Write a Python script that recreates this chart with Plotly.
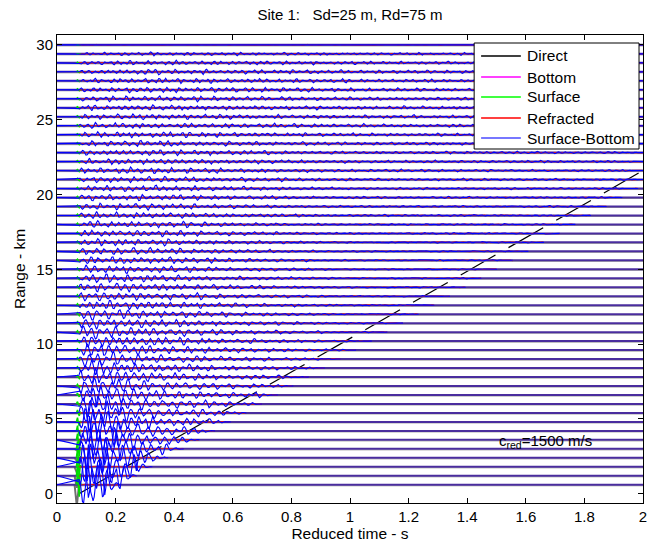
import numpy as np
import plotly.graph_objects as go

# ---------------- data ----------------
ranges_km = [0.6, 1.2, 1.8, 2.4, 3.0, 3.6, 4.2, 4.8, 5.4, 6.0,
             6.6, 7.2, 7.8, 8.4, 9.0, 9.6, 10.2, 10.8, 11.4, 12.0,
             12.6, 13.2, 13.8, 14.4, 15.0, 15.6, 16.2, 16.8, 17.4, 18.0,
             18.6, 19.2, 19.8, 20.4, 21.0, 21.6, 22.2, 22.8, 23.4, 24.0,
             24.6, 25.2, 25.8, 26.4, 27.0, 27.6, 28.2, 28.8, 29.4, 30.0]

# surface-bottom envelope (km): at ~0.11 s (peak), ~0.35 s (mid), ~1.0 s (late)
peak_amp = [2.0, 1.9, 1.8, 1.7, 1.55, 1.4, 1.3, 1.2, 1.05, 0.95,
            0.85, 0.76, 0.68, 0.62, 0.57, 0.53, 0.49, 0.46, 0.43, 0.41,
            0.39, 0.37, 0.35, 0.33, 0.31, 0.30, 0.29, 0.28, 0.27, 0.26,
            0.25, 0.24, 0.23, 0.23, 0.22, 0.22, 0.21, 0.21, 0.20, 0.20,
            0.20, 0.19, 0.19, 0.18, 0.18, 0.17, 0.16, 0.15, 0.11, 0.0]
mid_amp = [0.38, 0.38, 0.37, 0.36, 0.35, 0.34, 0.33, 0.32, 0.32, 0.31,
           0.31, 0.30, 0.30, 0.29, 0.29, 0.28, 0.28, 0.27, 0.27, 0.26,
           0.26, 0.25, 0.25, 0.24, 0.24, 0.23, 0.23, 0.22, 0.22, 0.21,
           0.21, 0.21, 0.20, 0.20, 0.20, 0.20, 0.20, 0.20, 0.20, 0.20,
           0.19, 0.19, 0.19, 0.19, 0.19, 0.18, 0.18, 0.16, 0.12, 0.0]
late_amp = [0.05, 0.05, 0.05, 0.05, 0.05, 0.05, 0.05, 0.05, 0.05, 0.05,
            0.05, 0.05, 0.05, 0.05, 0.05, 0.05, 0.05, 0.05, 0.05, 0.05,
            0.05, 0.05, 0.05, 0.05, 0.05, 0.05, 0.05, 0.05, 0.06, 0.06,
            0.07, 0.07, 0.08, 0.08, 0.09, 0.09, 0.10, 0.10, 0.11, 0.11,
            0.12, 0.12, 0.12, 0.12, 0.12, 0.12, 0.12, 0.11, 0.09, 0.0]
# surface arrival amplitude (km)
surface_amp = [0.8, 0.7, 0.6, 0.55, 0.5, 0.42, 0.35, 0.28, 0.2, 0.15,
               0.12, 0.1, 0.1, 0.09, 0.09, 0.09, 0.09, 0.09, 0.09, 0.09,
               0.09, 0.09, 0.08, 0.08, 0.08, 0.08, 0.08, 0.08, 0.08, 0.08,
               0.08, 0.08, 0.07, 0.07, 0.07, 0.07, 0.07, 0.07, 0.07, 0.06,
               0.06, 0.06, 0.06, 0.06, 0.06, 0.05, 0.05, 0.04, 0.02, 0.0]
# direct arrival amplitude (km), only visible on the nearest traces
direct_amp = [-1.4, -0.8, -0.4, -0.2, -0.1]

# envelope time knots (s) -- used with the three amplitude lists above
env_t = [0.075, 0.085, 0.11, 0.15, 0.22, 0.35, 0.60, 1.00, 2.00]

# normalised irregular wavelet samples (dt = 4 ms)
wavelet = [0, 0.5, 0.9, 0.8, 0.2, -0.5, -0.9, -0.7, -0.1, 0.4, 0.6, 0.3, -0.2, -0.7,
           -1.0, -0.6, 0.2, 0.9, 1.0, 0.4, -0.3, -0.6, -0.4, 0.1, 0.7, 0.8, 0.2, -0.5,
           -0.9, -0.8, -0.3, 0.3, 0.5, 0.2, -0.2, -0.3, 0.1, 0.8, 1.0, 0.5, -0.4, -1.0,
           -0.9, -0.2, 0.5, 0.9, 0.7, 0.0, -0.6, -0.7, -0.3, 0.2, 0.3, 0.0, -0.4, -0.9,
           -0.6, 0.2, 0.9, 0.8, 0.1, -0.5, -0.8, -0.4, 0.3, 0.7, 0.4, -0.1, -0.3, -0.1,
           0.3, 0.6, 0.2, -0.6, -1.0, -0.7, 0.1, 0.8, 0.9, 0.3, -0.4, -0.7, -0.5, 0.0,
           0.5, 0.6, 0.2, -0.3, -0.5, -0.2]
# slow amplitude modulation (one value per 20 ms)
modulation = [1.0, 0.7, 0.9, 1.2, 0.6, 0.8, 1.1, 0.5, 0.9, 1.0, 0.7, 1.2, 0.8, 0.6,
              1.1, 0.9, 0.5, 1.0, 0.8, 1.2, 0.7, 0.9, 0.6]
# per-trace phase offsets (samples) and time-stretch factors
phase_off = [3, 41, 17, 55, 8, 29, 47, 12, 36, 21, 58, 5, 44, 26, 9, 51, 33, 14, 39, 2,
             48, 23, 57, 11, 31, 6, 42, 19, 53, 27, 0, 38, 15, 49, 24, 56, 7, 34, 45, 18,
             1, 52, 28, 10, 43, 20, 35, 4, 50, 13]
stretch = [0.90, 0.95, 0.88, 1.00, 0.93, 0.97, 0.90, 1.04, 0.94, 0.99,
           1.06, 0.96, 1.02, 1.08, 0.98, 1.05, 1.10, 1.00, 1.07, 1.03,
           1.12, 1.04, 1.09, 1.14, 1.06, 1.11, 1.08, 1.16, 1.10, 1.13,
           1.18, 1.12, 1.15, 1.20, 1.14, 1.17, 1.22, 1.16, 1.19, 1.24,
           1.18, 1.21, 1.26, 1.20, 1.23, 1.28, 1.22, 1.25, 1.27, 1.20]
surface_shape = [0, 0.6, 1.0, 0.2, -0.7, -1.0, -0.3, 0.2, 0]
direct_shape = [0, 0.3, 0.8, 1.0, 0.7, 0.3, 0.0]

# dashed reference line
line_t = [0.075, 2.0]
line_r = [0.0, 21.6]

legend_names = ["Direct", "Bottom", "Surface", "Refracted", "Surface-Bottom"]
legend_colors = ["#000000", "#ff00ff", "#00ff00", "#ff0000", "#4a4aff"]

arrival_t = 0.075
tail_t = 0.09
dt = 0.004
FONT = "Liberation Sans, Arial"
FS = 15

# ---------------- figure geometry (pixels) ----------------
W, H = 650, 542
ML, MR, MT, MB = 57, 3, 35, 39
PW, PH = W - ML - MR, H - MT - MB


def px_x(px):
    return (px - ML) / PW


def px_y(py):
    return 1 - (py - MT) / PH


# ---------------- build traces ----------------
fig = go.Figure()

fig.add_trace(go.Scatter(x=line_t, y=line_r, mode="lines",
                         line=dict(color="black", width=1.2, dash="40px,15px"),
                         showlegend=False, hoverinfo="skip"))

gx, gy, bx, by, rx, ry, wx, wy = [], [], [], [], [], [], [], []
sx, sy, dx, dy = [], [], [], []
wav = np.array(wavelet)
mod = np.array(modulation)
nw, nm_ = len(wav), len(mod)
for i, r in enumerate(ranges_km):
    gx += [0, 2, None]; gy += [r - 0.07, r - 0.07, None]
    bx += [0, 2, None]; by += [r, r, None]
    t_end = min(2.0, float(np.interp(r, line_r, line_t, right=10)) + tail_t)
    t = np.arange(arrival_t, t_end, dt)
    k = np.arange(len(t))
    pos = k * stretch[i] + phase_off[i]
    i0 = np.floor(pos).astype(int)
    fr = pos - i0
    w = wav[i0 % nw] * (1 - fr) + wav[(i0 + 1) % nw] * fr
    m = mod[((k + phase_off[i] * 3) // 5) % nm_]
    p, q, s = peak_amp[i], mid_amp[i], late_amp[i]
    env_v = [0.3 * p, 0.8 * p, p, 0.85 * p, 0.45 * p + 0.55 * q, q, 0.5 * (q + s), s, 0.7 * s]
    env = np.interp(t, env_t, env_v) * np.interp(t, [t_end - 0.06, t_end], [1.0, 0.0])
    yb = r + env * w * m
    wx += [0.0] + list(t) + [t_end, None]
    wy += [r] + list(yb) + [r, None]
    # refracted: small wiggle on the baseline
    rx += list(t) + [None]
    ry += list(r + 0.03 * wav[(k + phase_off[-1 - i]) % nw]) + [None]
    # surface arrival
    ts = 0.066 + 0.002 * np.arange(len(surface_shape))
    sx += list(ts) + [None]
    sy += list(r + surface_amp[i] * np.array(surface_shape)) + [None]
    if i < len(direct_amp):
        td = 0.060 + 0.0025 * np.arange(len(direct_shape))
        dx += list(td) + [None]
        dy += list(r + direct_amp[i] * np.array(direct_shape)) + [None]

fig.add_trace(go.Scatter(x=gx, y=gy, mode="lines", line=dict(color="#a0a0a0", width=1),
                         showlegend=False, hoverinfo="skip"))
fig.add_trace(go.Scatter(x=dx, y=dy, mode="lines", line=dict(color="#707070", width=2),
                         showlegend=False, hoverinfo="skip"))
fig.add_trace(go.Scatter(x=bx, y=by, mode="lines", line=dict(color="#4a2d9e", width=2),
                         showlegend=False, hoverinfo="skip"))
fig.add_trace(go.Scatter(x=sx, y=sy, mode="lines", line=dict(color="#00dd00", width=1.5),
                         showlegend=False, hoverinfo="skip"))
fig.add_trace(go.Scatter(x=rx, y=ry, mode="lines", line=dict(color="#e01818", width=1.0),
                         showlegend=False, hoverinfo="skip"))
fig.add_trace(go.Scatter(x=wx, y=wy, mode="lines", line=dict(color="#0000ff", width=1.1),
                         showlegend=False, hoverinfo="skip"))

# ---------------- legend box (drawn as shapes + text) ----------------
shapes = [dict(type="rect", xref="paper", yref="paper", layer="above",
               x0=px_x(477), x1=px_x(643), y0=px_y(149), y1=px_y(43),
               fillcolor="white", line=dict(color="black", width=1))]
annots = []
legend_rows = [56, 77, 97, 118, 138]
for nm, col, yy in zip(legend_names, legend_colors, legend_rows):
    shapes.append(dict(type="line", xref="paper", yref="paper", layer="above",
                       x0=px_x(484), x1=px_x(524), y0=px_y(yy), y1=px_y(yy),
                       line=dict(color=col, width=1.5)))
    annots.append(dict(x=px_x(528), y=px_y(yy), xref="paper", yref="paper", text=nm,
                       showarrow=False, xanchor="left", yanchor="middle",
                       font=dict(family=FONT, size=15.5, color="black")))

annots.append(dict(x=1.503, y=3.5, xref="x", yref="y", text="c<sub>red</sub>=1500 m/s",
                   showarrow=False, xanchor="left", yanchor="middle",
                   font=dict(family=FONT, size=FS, color="black")))

axis_common = dict(showline=True, linecolor="black", linewidth=1, mirror="ticks",
                   ticks="inside", ticklen=5, tickcolor="black", showgrid=False,
                   zeroline=False, ticklabeloverflow="allow",
                   tickfont=dict(family=FONT, size=FS, color="black"))

fig.update_layout(
    width=W, height=H,
    margin=dict(l=ML, r=MR, t=MT, b=MB),
    paper_bgcolor="white", plot_bgcolor="white",
    title=dict(text="Site 1:\u00a0\u00a0\u00a0Sd=25 m, Rd=75 m", x=0.5, xref="paper",
               y=1 - 15 / H, yanchor="middle",
               font=dict(family=FONT, size=FS, color="black")),
    xaxis=dict(range=[0, 2], dtick=0.2, tick0=0,
               title=dict(text="Reduced time - s", standoff=0,
                          font=dict(family=FONT, size=15.5, color="black")),
               **axis_common),
    yaxis=dict(range=[-0.62, 30.66], dtick=5, tick0=0,
               title=dict(text="Range - km", standoff=6,
                          font=dict(family=FONT, size=15.5, color="black")),
               **axis_common),
    shapes=shapes,
    annotations=annots,
    showlegend=False,
)

fig.write_html("out.html")
